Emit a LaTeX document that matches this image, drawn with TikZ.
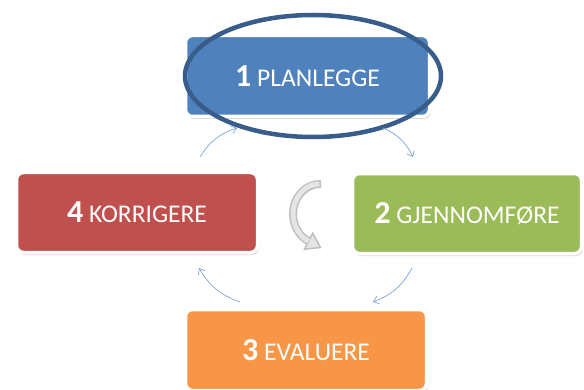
\documentclass[tikz,border=0pt]{standalone}
\usepackage{fontspec}
\setmainfont{Carlito}
\usetikzlibrary{positioning}
\usetikzlibrary{arrows.meta}
\usetikzlibrary{shadows}
\definecolor{planblue}{HTML}{4F81BD}
\definecolor{gjengreen}{HTML}{9BBB59}
\definecolor{evalorange}{HTML}{F79646}
\definecolor{korrred}{HTML}{C0504D}
\definecolor{ringblue}{HTML}{385D8A}
\definecolor{arrowblue}{HTML}{7FA2D6}
\newcommand{\steptext}[2]{{\fontsize{32}{34}\selectfont\bfseries #1}{\fontsize{25.5}{28}\selectfont\ #2}}

\begin{document}
\begin{tikzpicture}[x=1pt,y=1pt]
\tikzstyle{stepbox}=[rectangle,rounded corners=7pt,draw=white,line width=3.5pt,text=white,inner sep=0pt,
                     drop shadow={shadow xshift=1.5pt,shadow yshift=-2.5pt,opacity=0.3}]
\tikzstyle{cyclearrow}=[draw=arrowblue,line width=0.7pt,-{Straight Barb[length=5pt,width=8pt]},bend left=20]
\useasboundingbox (0,0) rectangle (584,389);
\node[stepbox,fill=planblue,minimum width=244pt,minimum height=81pt] at(307.5, 313) (plan) {\steptext{1}{PLANLEGGE}};
\node[stepbox,fill=gjengreen,minimum width=229pt,minimum height=80pt] at(467, 175.5) (gjen) {\steptext{2}{GJENNOMF\O RE}};
\node[stepbox,fill=evalorange,minimum width=241pt,minimum height=81pt] at(306, 39) (eval) {\steptext{3}{EVALUERE}};
\node[stepbox,fill=korrred,minimum width=241pt,minimum height=80pt] at(137, 176.5) (korr) {\steptext{4}{KORRIGERE}};
% ring round step 1
\draw[ringblue,line width=4.5pt] (plan.center) ++(5.5,0) ellipse[x radius=128,y radius=61];
% arrows of the cycle
\coordinate (k1) at (200, 232);
\coordinate (p1) at (237, 261);
\coordinate (p2) at (383, 261);
\coordinate (g1) at (413, 232);
\coordinate (g2) at (412, 121);
\coordinate (e1) at (373, 87);
\coordinate (e2) at (240, 87);
\coordinate (k2) at (199, 121);
\draw[cyclearrow] (k1) to (p1);
\draw[cyclearrow] (p2) to (g1);
\draw[cyclearrow] (g2) to (e1);
\draw[cyclearrow] (e2) to (k2);
% turning arrow in the middle
\coordinate (turn) at (321, 205);
\coordinate (head1) at (312.7, 155.8);
\coordinate (headtip) at (320.5, 141.5);
\coordinate (head2) at (304.5, 139.8);
\draw[line width=8pt,draw=gray!50] (turn) arc[start angle=88,end angle=245,x radius=27,y radius=30];
\filldraw[fill=gray!20,draw=gray!50,line width=1.5pt,line join=miter] (head1) -- (headtip) -- (head2) -- cycle;
\draw[line width=5pt,draw=gray!20,shorten <=1.5pt] (turn) arc[start angle=88,end angle=245,x radius=27,y radius=30];
\end{tikzpicture}
\end{document}
